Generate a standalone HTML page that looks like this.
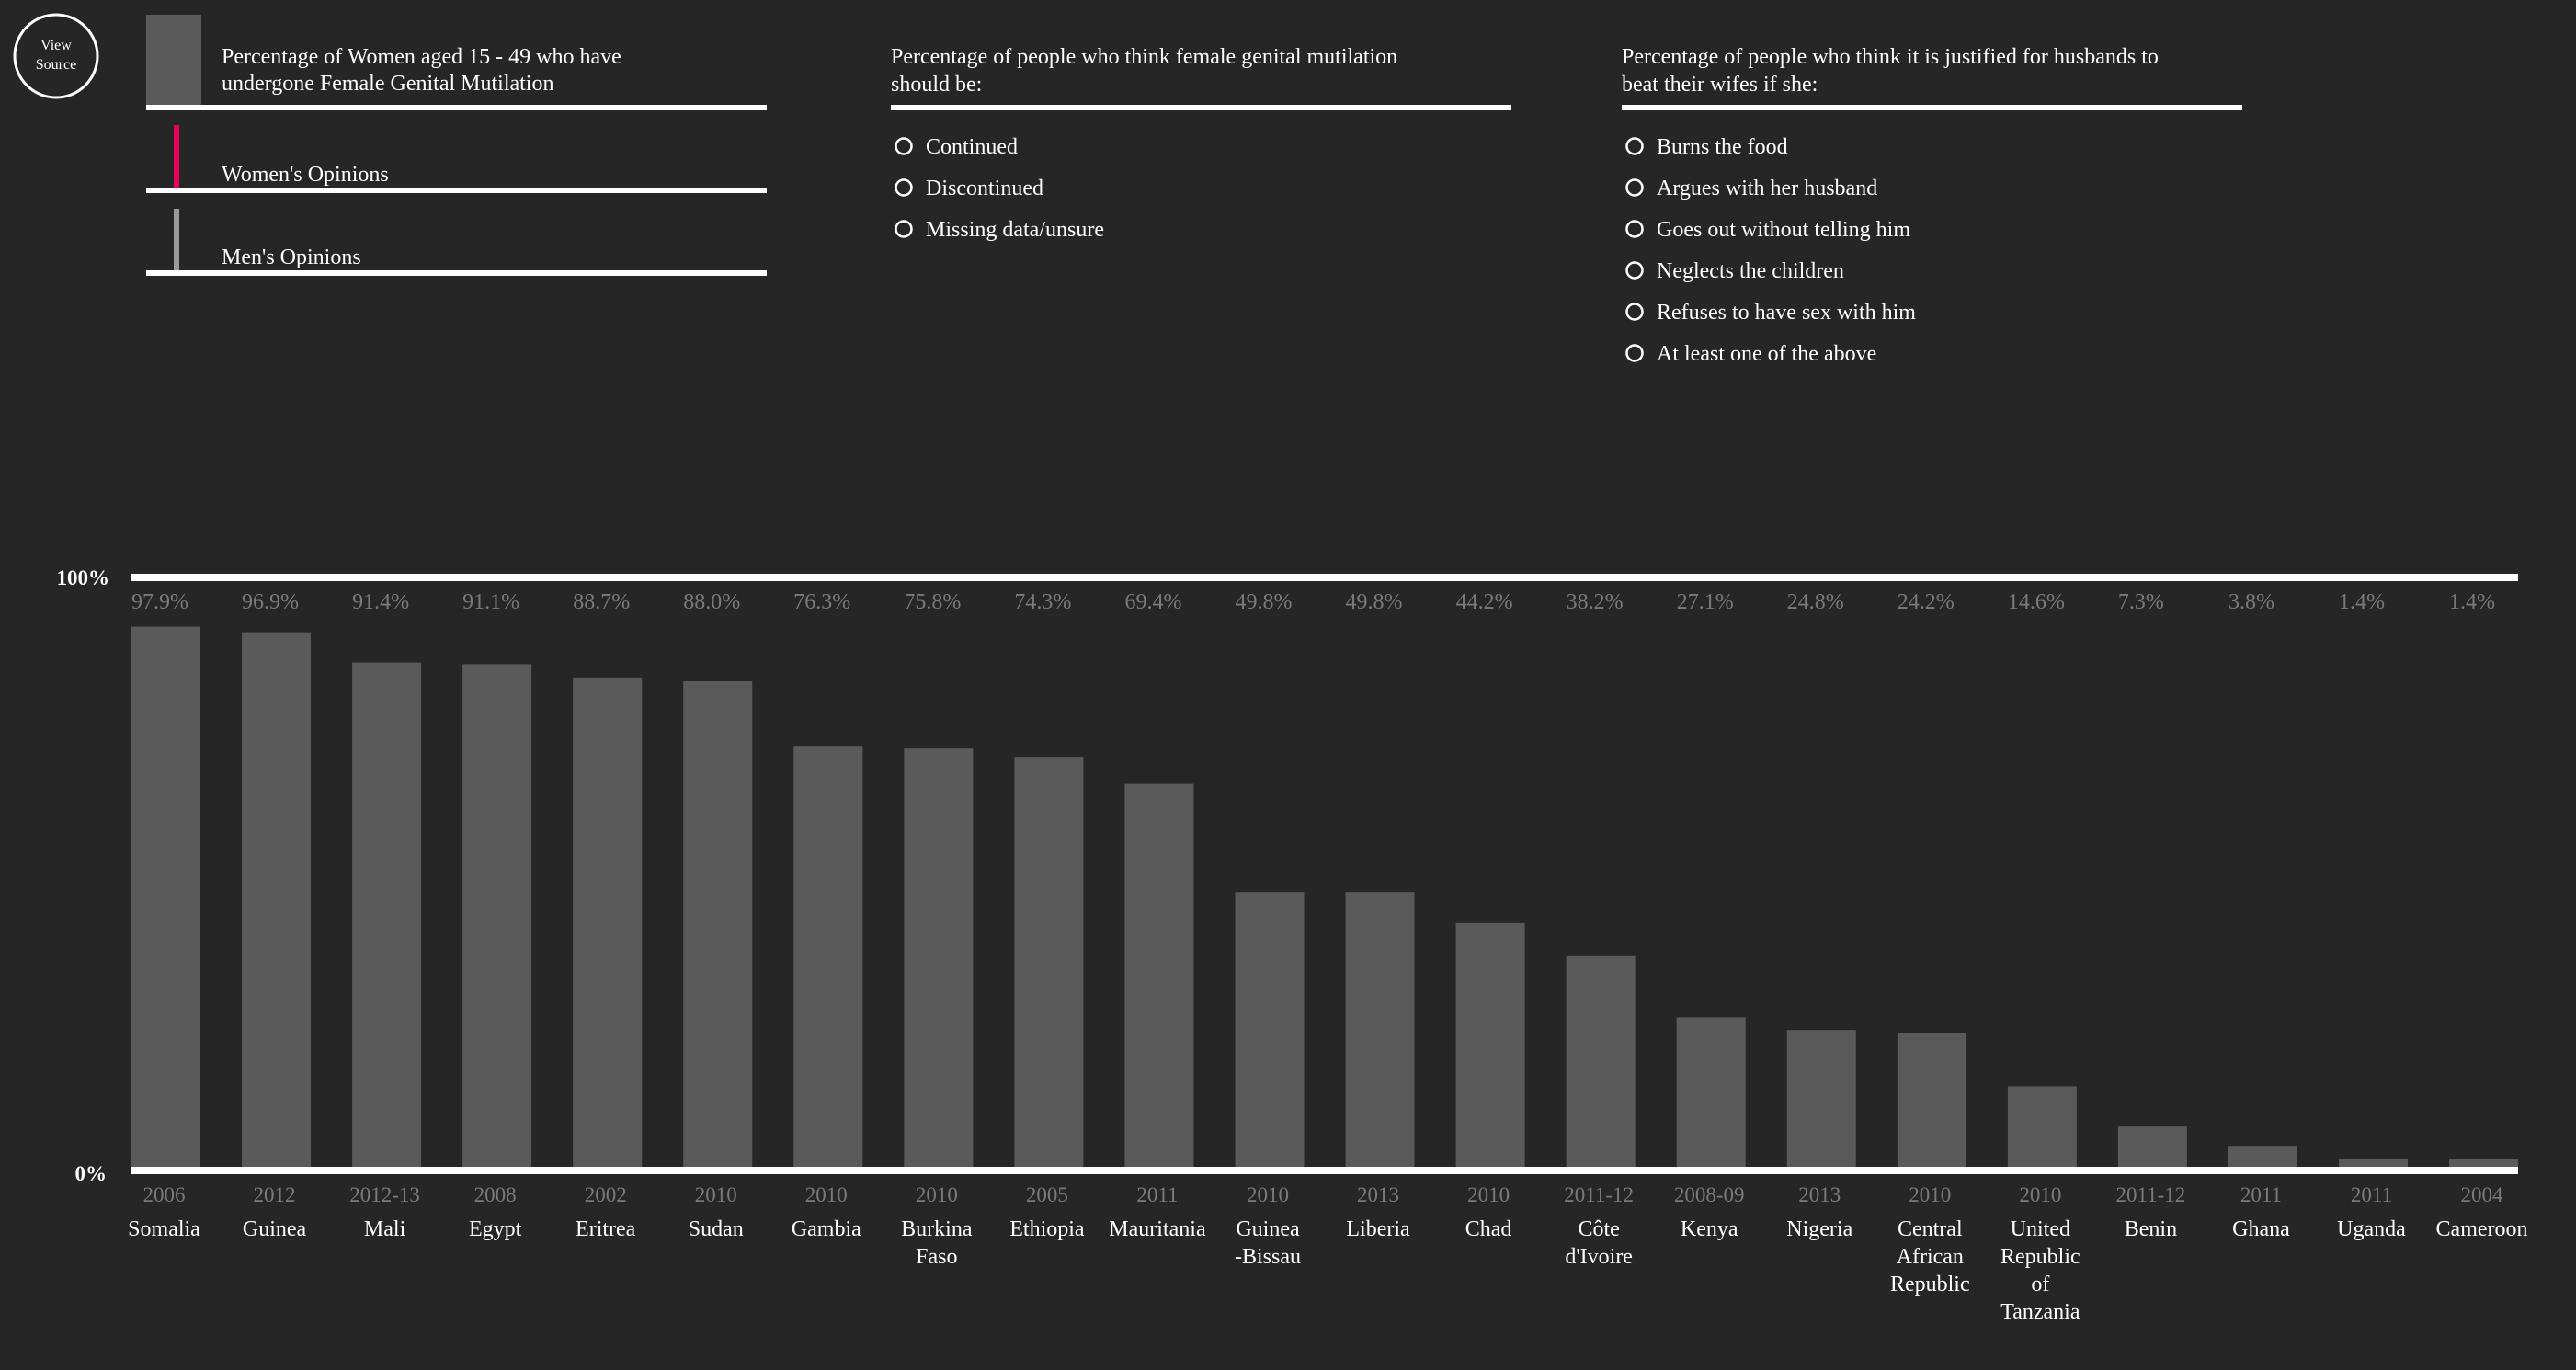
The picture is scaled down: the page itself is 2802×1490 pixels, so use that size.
<!DOCTYPE html>
<html><head><meta charset="utf-8">
<style>
html,body{margin:0;padding:0;background:#262626;}
svg{display:block;font-family:"Liberation Serif",serif;}
</style></head>
<body>
<svg id="chart" width="2802" height="1490" viewBox="0 0 2802 1490" xmlns="http://www.w3.org/2000/svg">
<rect x="0" y="0" width="2802" height="1490" fill="#262626"/>
<g>
<circle cx="61" cy="61" r="45" fill="none" stroke="#fff" stroke-width="3"/>
<text x="61" y="54" fill="#fff" font-size="16" text-anchor="middle">View</text>
<text x="61" y="75" fill="#fff" font-size="16" text-anchor="middle">Source</text>
</g>
<g>
<rect x="159" y="16" width="60" height="98" fill="#5a5a5a"/>
<text x="241" y="69" fill="#fff" font-size="24"><tspan x="241">Percentage of Women aged 15 - 49 who have</tspan><tspan x="241" y="98">undergone Female Genital Mutilation</tspan></text>
<rect x="159" y="114" width="675" height="6" fill="#fff"/>
</g>
<g>
<rect x="189" y="136" width="6" height="68" fill="#e8005a"/>
<text x="241" y="197" fill="#fff" font-size="24">Women's Opinions</text>
<rect x="159" y="204" width="675" height="6" fill="#fff"/>
</g>
<g>
<rect x="189" y="227" width="6" height="67" fill="#999"/>
<text x="241" y="287" fill="#fff" font-size="24">Men's Opinions</text>
<rect x="159" y="294" width="675" height="6" fill="#fff"/>
</g>
<g>
<text x="969" y="69" fill="#fff" font-size="24"><tspan x="969">Percentage of people who think female genital mutilation</tspan><tspan x="969" y="99">should be:</tspan></text>
<rect x="969" y="114" width="675" height="6" fill="#fff"/>
</g>
<g>
<text x="1764" y="69" fill="#fff" font-size="24"><tspan x="1764">Percentage of people who think it is justified for husbands to</tspan><tspan x="1764" y="99">beat their wifes if she:</tspan></text>
<rect x="1764" y="114" width="675" height="6" fill="#fff"/>
</g>
<g id="opts"></g>
<g id="plot"></g>
</svg>
<script>
const categories = ["Somalia","Guinea","Mali","Egypt","Eritrea","Sudan","Gambia","Burkina Faso","Ethiopia","Mauritania","Guinea -Bissau","Liberia","Chad","Côte d'Ivoire","Kenya","Nigeria","Central African Republic","United Republic of Tanzania","Benin","Ghana","Uganda","Cameroon"];
const nameLines = [["Somalia"],["Guinea"],["Mali"],["Egypt"],["Eritrea"],["Sudan"],["Gambia"],["Burkina","Faso"],["Ethiopia"],["Mauritania"],["Guinea","-Bissau"],["Liberia"],["Chad"],["Côte","d'Ivoire"],["Kenya"],["Nigeria"],["Central","African","Republic"],["United","Republic","of","Tanzania"],["Benin"],["Ghana"],["Uganda"],["Cameroon"]];
const years = ["2006","2012","2012-13","2008","2002","2010","2010","2010","2005","2011","2010","2013","2010","2011-12","2008-09","2013","2010","2010","2011-12","2011","2011","2004"];
const values = [97.9,96.9,91.4,91.1,88.7,88.0,76.3,75.8,74.3,69.4,49.8,49.8,44.2,38.2,27.1,24.8,24.2,14.6,7.3,3.8,1.4,1.4];
const fgmOptions = ["Continued","Discontinued","Missing data/unsure"];
const beatOptions = ["Burns the food","Argues with her husband","Goes out without telling him","Neglects the children","Refuses to have sex with him","At least one of the above"];

const NS = "http://www.w3.org/2000/svg";
function mk(tag, attrs, parent){const e=document.createElementNS(NS,tag);for(const k in attrs)e.setAttribute(k,attrs[k]);parent.appendChild(e);return e;}
const plotG = document.getElementById('plot');
const optsG = document.getElementById('opts');

function addOptions(list, x0, prefix){
  list.forEach((t,i)=>{
    const y = 159 + i*45;
    const g = mk('g',{},optsG);
    
    
    mk('circle',{cx:x0+14,cy:y,r:8.5,fill:'none',stroke:'#fff','stroke-width':2.5},g);
    const tx = mk('text',{x:x0+38,y:y+8,fill:'#fff','font-size':24},g);
    tx.textContent = t;
  });
}
addOptions(fgmOptions, 969, 'fgm-opinion');
addOptions(beatOptions, 1764, 'beating-reason');

const xStart = 143, pitch = 120.05, bw = 75, yBase = 1269, hScale = 6.0;
const xPos = i => xStart + i*pitch;
const yPos = v => yBase - v*hScale;

values.forEach((v,i)=>{
  const r = mk('rect',{x:xPos(i),y:yPos(v),width:bw,height:yBase-yPos(v),fill:'#5a5a5a'},plotG);
  
  
  const cx = xPos(i)+bw/2;
  const vl = mk('text',{x:xPos(i),y:662,fill:'#7a7a7a','font-size':24},plotG);
  
  
  vl.textContent = v.toFixed(1) + '%';
  const yl = mk('text',{x:cx-2,y:1307,fill:'#7a7a7a','font-size':23,'text-anchor':'middle'},plotG);
  
  
  yl.textContent = years[i];
  const nl = mk('text',{x:cx-2,y:1344,fill:'#fff','font-size':24,'text-anchor':'middle'},plotG);
  
  
  nameLines[i].forEach((ln,j)=>{const ts=mk('tspan',{x:cx-2,y:1344+j*30},nl);ts.textContent=ln;});
});

const topLine = mk('rect',{x:143,y:624,width:2596,height:8,fill:'#fff'},plotG);


const botLine = mk('rect',{x:143,y:1269,width:2596,height:8,fill:'#fff'},plotG);


const l100 = mk('text',{x:119,y:636,fill:'#fff','font-size':23,'font-weight':'bold','text-anchor':'end'},plotG);


l100.textContent = '100%';
const l0 = mk('text',{x:116,y:1284,fill:'#fff','font-size':23,'font-weight':'bold','text-anchor':'end'},plotG);


l0.textContent = '0%';
</script>
</body></html>
